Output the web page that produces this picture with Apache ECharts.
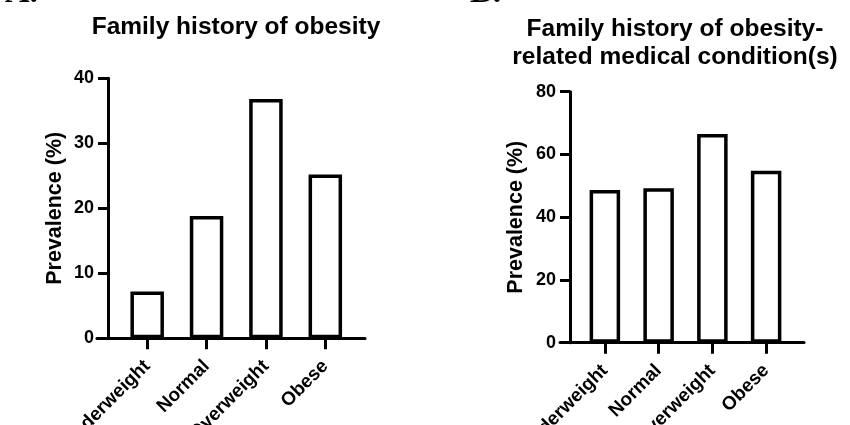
<!DOCTYPE html>
<html>
<head>
<meta charset="utf-8">
<script src="https://cdn.jsdelivr.net/npm/echarts@6/dist/echarts.min.js"></script>
<style>
html,body{margin:0;padding:0;background:#fff;}
#chart{width:850px;height:425px;}
</style>
</head>
<body>
<div id="chart"></div>
<script>
var categories = ['Underweight', 'Normal', 'Overweight', 'Obese'];
var obesityValues = [7.2, 18.8, 36.8, 25.2];
var conditionValues = [48.7, 49.2, 66.5, 54.8];
var titleA = 'Family history of obesity';
var titleB = 'Family history of obesity-\nrelated medical condition(s)';
var yNameText = 'Prevalence (%)';
var yMaxA = 40, yStepA = 10;
var yMaxB = 80, yStepB = 20;

var FONT = 'Liberation Sans, Arial, sans-serif';
var chart = echarts.init(document.getElementById('chart'), null, {renderer: 'canvas'});

function yAxisCfg(gridIndex, max, step, offset) {
  return {
    type: 'value', gridIndex: gridIndex, min: 0, max: max, interval: step,
    offset: offset,
    name: yNameText, nameLocation: 'middle', nameGap: gridIndex === 0 ? 42 : 43,
    nameTextStyle: {fontFamily: FONT, fontWeight: 'bold', fontSize: 21.5, color: '#000'},
    axisLine: {show: true, lineStyle: {color: '#000', width: 3}},
    axisTick: {show: true, length: 10, lineStyle: {color: '#000', width: 3}},
    axisLabel: {fontFamily: FONT, fontWeight: 'bold', fontSize: 18, color: '#000', margin: 14},
    splitLine: {show: false}
  };
}
function xAxisCfg(gridIndex) {
  return {
    type: 'category', gridIndex: gridIndex, data: categories, boundaryGap: true,
    axisLine: {show: false},
    axisTick: {show: true, alignWithLabel: true, length: 11, lineStyle: {color: '#000', width: 3}},
    axisLabel: {fontFamily: FONT, fontWeight: 'bold', fontSize: 19, color: '#000', rotate: 45, margin: 25, interval: 0}
  };
}
function lineAxis(gridIndex) {
  return {
    type: 'value', gridIndex: gridIndex, min: 0, max: 1,
    axisLine: {show: true, onZero: false, lineStyle: {color: '#000', width: 3}},
    axisTick: {show: false}, axisLabel: {show: false}, splitLine: {show: false}
  };
}
function hiddenY(gridIndex) {
  return {type: 'value', gridIndex: gridIndex, min: 0, max: 1, show: false};
}

var option = {
  backgroundColor: '#fff',
  animation: false,
  title: [
    {text: titleA, left: 231, top: 10, textAlign: 'center',
     textStyle: {fontFamily: FONT, fontWeight: 'bold', fontSize: 24.5, color: '#000'}},
    {text: titleB, left: 670, top: 10, textAlign: 'center',
     textStyle: {fontFamily: FONT, fontWeight: 'bold', fontSize: 24.5, color: '#000', lineHeight: 28}}
  ],
  graphic: [
    {type: 'text', x: 5, y: -24, style: {text: 'A.', font: 'bold 34px Liberation Serif', fill: '#000', verticalAlign: 'top'}},
    {type: 'text', x: 470, y: -24, style: {text: 'B.', font: 'bold 34px Liberation Serif', fill: '#000', verticalAlign: 'top'}}
  ],
  grid: [
    {left: 117.5, top: 78.3, width: 237.5, height: 260, outerBoundsMode: 'none', containLabel: false},
    {left: 578, top: 91.7, width: 215, height: 251, outerBoundsMode: 'none', containLabel: false},
    {left: 97, top: 78.3, width: 268, height: 260, outerBoundsMode: 'none', containLabel: false},
    {left: 560, top: 91.7, width: 244, height: 251, outerBoundsMode: 'none', containLabel: false}
  ],
  xAxis: [xAxisCfg(0), xAxisCfg(1), lineAxis(2), lineAxis(3)],
  yAxis: [yAxisCfg(0, yMaxA, yStepA, 9.5), yAxisCfg(1, yMaxB, yStepB, 8), hiddenY(2), hiddenY(3)],
  series: [
    {type: 'bar', xAxisIndex: 0, yAxisIndex: 0, data: obesityValues, barWidth: 33.5,
     itemStyle: {color: '#fff', borderColor: '#000', borderWidth: 3.5}},
    {type: 'bar', xAxisIndex: 1, yAxisIndex: 1, data: conditionValues, barWidth: 30.5,
     itemStyle: {color: '#fff', borderColor: '#000', borderWidth: 3.5}}
  ]
};
chart.setOption(option);
</script>
</body>
</html>
